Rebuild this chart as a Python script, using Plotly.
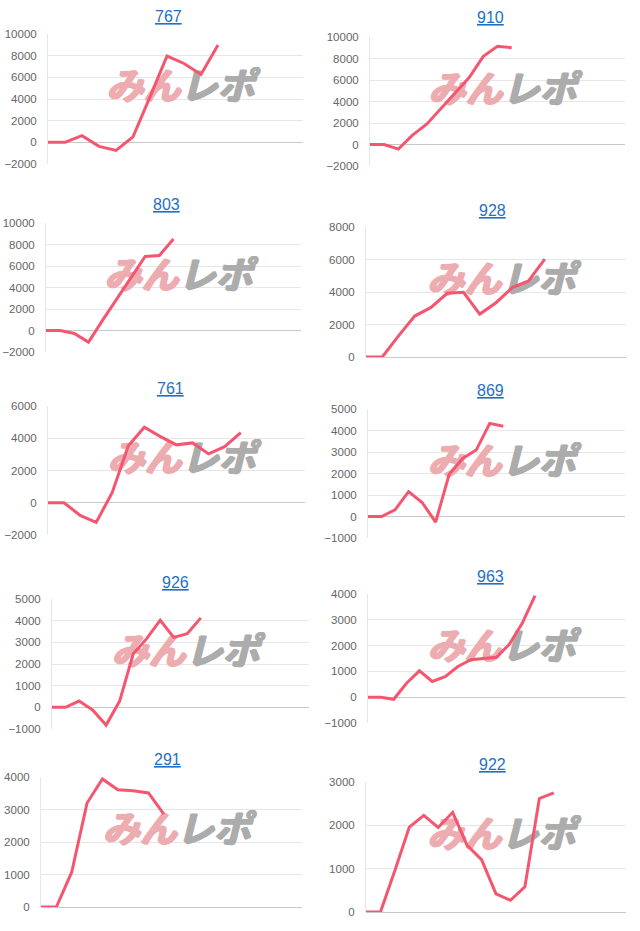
import plotly.graph_objects as go

W, H = 640, 931

TITLES = ["767", "910", "803", "928", "761", "869", "926", "963", "291", "922"]

V767 = [0, 0, 620, -370, -740, 500, 4200, 7960, 7280, 6270, 8980]
V910 = [0, 0, -430, 870, 1890, 3300, 4740, 6220, 8200, 9130, 9000]
V803 = [0, 0, -280, -1080, 960, 2960, 4970, 6880, 6970, 8520]
V928 = [0, 0, 1300, 2520, 3050, 3920, 3980, 2640, 3340, 4270, 4680, 6020]
V761 = [0, 0, -780, -1220, 640, 3530, 4680, 4100, 3590, 3710, 3030, 3480, 4350]
V869 = [0, 0, 310, 1160, 650, -260, 1960, 2700, 3090, 4330, 4200]
V926 = [0, 0, 290, -120, -820, 290, 2460, 3170, 4020, 3230, 3400, 4130]
V963 = [0, 0, -80, 540, 1020, 610, 800, 1190, 1450, 1510, 1550, 2050, 2860, 3940]
V291 = [0, 0, 1070, 3200, 3940, 3610, 3580, 3510, 2860]
V922 = [0, 0, 960, 1960, 2230, 1950, 2300, 1540, 1210, 420, 270, 580, 2620, 2750]

SERIES = [V767, V910, V803, V928, V761, V869, V926, V963, V291, V922]
SLOTS = [16, 19, 19, 17, 17, 20, 20, 21, 18, 19]
Y_MIN = [-2000, -2000, -2000, 0, -2000, -1000, -1000, -1000, 0, 0]
Y_MAX = [10000, 10000, 10000, 8000, 6000, 5000, 5000, 4000, 4000, 3000]
Y_STEP = [2000, 2000, 2000, 2000, 2000, 1000, 1000, 1000, 1000, 1000]

# plot boxes in pixels: x0, x1, ytop, ybottom
BOXES = [
    (48, 303, 34, 164), (370, 625, 37, 166),
    (46, 301, 223, 352), (366, 626, 227, 357),
    (48, 305, 406, 535), (368, 625, 409, 538),
    (52, 309, 599, 729), (368, 625, 594, 723),
    (41, 302, 777, 907), (366, 626, 782, 912),
]
TITLE_POS = [
    (168, 17), (490, 18), (166, 205), (492, 210), (170, 388),
    (490, 390), (175, 582), (490, 576), (167, 759), (492, 764),
]

LINE_COLOR = "#f5566f"
GRID = "#e6e6e6"
FONT = "Arial, Liberation Sans, sans-serif"
PINK = "rgb(236,172,176)"
GREY = "rgb(172,172,172)"


def thick(color):
    # fake a heavier weight for the watermark glyphs
    return ", ".join(f"{dx}px {dy}px 0 {color}"
                     for dx, dy in [(1, 0), (-1, 0), (0, 1), (1, 1)])


fig = go.Figure()
layout = dict(
    width=W, height=H,
    margin=dict(l=0, r=0, t=0, b=0, pad=0),
    paper_bgcolor="white", plot_bgcolor="white",
    showlegend=False,
    font=dict(family=FONT, color="#666666", size=12),
    annotations=[],
)

for i, vals in enumerate(SERIES):
    n = i + 1
    xa = "x" if n == 1 else f"x{n}"
    ya = "y" if n == 1 else f"y{n}"
    x0, x1, yt, yb = BOXES[i]
    xr = [0, SLOTS[i] - 1]
    yr = [Y_MIN[i], Y_MAX[i]]

    # watermark, drawn first so the line sits on top
    wx = [xr[0] + 0.52 * (xr[1] - xr[0])]
    wy = [yr[0] + 0.57 * (yr[1] - yr[0])]
    for txt, pos, col in [("みん", "middle left", PINK), ("レポ", "middle right", GREY)]:
        fig.add_trace(go.Scatter(
            x=wx, y=wy, mode="text", xaxis=xa, yaxis=ya, hoverinfo="skip",
            text=[f"<b><i>{txt}</i></b>"], textposition=pos,
            textfont=dict(family="Noto Sans CJK JP", size=37, color=col,
                          shadow=thick(col)),
        ))
    fig.add_trace(go.Scatter(
        x=list(range(len(vals))), y=vals, mode="lines",
        xaxis=xa, yaxis=ya,
        line=dict(color=LINE_COLOR, width=3),
    ))

    layout[f"xaxis{'' if n == 1 else n}"] = dict(
        domain=[x0 / W, x1 / W], anchor=ya, range=xr,
        showgrid=False, zeroline=False, showticklabels=False,
        showline=False, fixedrange=True, automargin=False,
    )
    layout[f"yaxis{'' if n == 1 else n}"] = dict(
        domain=[1 - yb / H, 1 - yt / H], anchor=xa, range=yr,
        tickmode="linear", tick0=Y_MIN[i], dtick=Y_STEP[i], tickformat="d",
        showgrid=True, gridcolor=GRID, gridwidth=1,
        zeroline=True, zerolinecolor="#c8c8c8", zerolinewidth=1,
        showline=True, linecolor="#e6e6e6", linewidth=1,
        ticks="outside", ticklen=8, tickcolor="white",
        tickfont=dict(size=11.5, color="#666666"),
        fixedrange=True, automargin=False,
    )
    tx, ty = TITLE_POS[i]
    layout["annotations"].append(dict(
        x=tx / W, y=1 - ty / H, xref="paper", yref="paper",
        text=f"<u>{TITLES[i]}</u>", showarrow=False,
        xanchor="center", yanchor="middle",
        font=dict(family=FONT, size=16, color="#1f70c4"),
    ))

fig.update_layout(**layout)
# drop the browser's default 8px body margin so the figure fills the page
fig.write_html("out.html", config={"displayModeBar": False},
               post_script="document.body.style.margin = '0';")
